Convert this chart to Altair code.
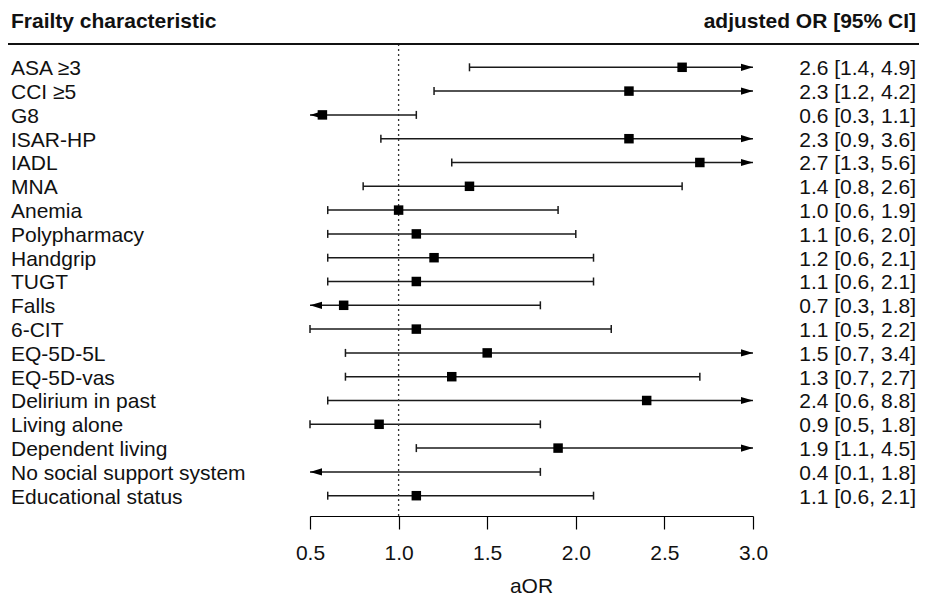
import altair as alt
import pandas as pd

# ---- data ----
labels = ["ASA ≥3", "CCI ≥5", "G8", "ISAR-HP", "IADL", "MNA", "Anemia",
          "Polypharmacy", "Handgrip", "TUGT", "Falls", "6-CIT", "EQ-5D-5L",
          "EQ-5D-vas", "Delirium in past", "Living alone", "Dependent living",
          "No social support system", "Educational status"]
aor = [2.6, 2.3, 0.57, 2.3, 2.7, 1.4, 1.0, 1.1, 1.2, 1.1, 0.69, 1.1, 1.5,
       1.3, 2.4, 0.89, 1.9, 0.4, 1.1]
lower = [1.4, 1.2, 0.3, 0.9, 1.3, 0.8, 0.6, 0.6, 0.6, 0.6, 0.3, 0.5, 0.7,
         0.7, 0.6, 0.5, 1.1, 0.1, 0.6]
upper = [4.9, 4.2, 1.1, 3.6, 5.6, 2.6, 1.9, 2.0, 2.1, 2.1, 1.8, 2.2, 3.4,
         2.7, 8.8, 1.8, 4.5, 1.8, 2.1]
ci_text = ["2.6 [1.4, 4.9]", "2.3 [1.2, 4.2]", "0.6 [0.3, 1.1]",
           "2.3 [0.9, 3.6]", "2.7 [1.3, 5.6]", "1.4 [0.8, 2.6]",
           "1.0 [0.6, 1.9]", "1.1 [0.6, 2.0]", "1.2 [0.6, 2.1]",
           "1.1 [0.6, 2.1]", "0.7 [0.3, 1.8]", "1.1 [0.5, 2.2]",
           "1.5 [0.7, 3.4]", "1.3 [0.7, 2.7]", "2.4 [0.6, 8.8]",
           "0.9 [0.5, 1.8]", "1.9 [1.1, 4.5]", "0.4 [0.1, 1.8]",
           "1.1 [0.6, 2.1]"]
x_ticks = [0.5, 1.0, 1.5, 2.0, 2.5, 3.0]
XMIN, XMAX = 0.5, 3.0

FONT = "Liberation Sans"
FS = 21
W, H = 443, 472

df = pd.DataFrame({
    "row": list(range(len(labels))),
    "label": labels,
    "aor": aor,
    "lower": lower,
    "upper": upper,
    "ci": ci_text,
})
df["lo_c"] = df["lower"].clip(lower=XMIN)
df["hi_c"] = df["upper"].clip(upper=XMAX)

xs = alt.Scale(domain=[XMIN, XMAX], nice=False, zero=False)
ys = alt.Scale(domain=[-0.979, 18.853], reverse=True, nice=False, zero=False)

base = alt.Chart(df)
Y = alt.Y("row:Q", scale=ys, axis=None)

whisk = base.mark_rule(color="#1a1a1a", strokeWidth=1.5).encode(
    x=alt.X("lo_c:Q", scale=xs,
            axis=alt.Axis(values=x_ticks, format=".1f", title=None, grid=False,
                          domainColor="black", domainWidth=1.2,
                          tickColor="black", tickWidth=1.2, tickSize=13,
                          labelFont=FONT, labelFontSize=FS, labelColor="#111111",
                          labelPadding=13, labelFlush=False, labelOverlap=False)),
    x2="hi_c:Q",
    y=Y,
)

cap_lo = base.transform_filter(alt.datum.lower >= XMIN).mark_tick(
    orient="vertical", size=8, thickness=1.5, color="#1a1a1a", opacity=1
).encode(x=alt.X("lower:Q", scale=xs), y=Y)

cap_hi = base.transform_filter(alt.datum.upper <= XMAX).mark_tick(
    orient="vertical", size=8, thickness=1.5, color="#1a1a1a", opacity=1
).encode(x=alt.X("upper:Q", scale=xs), y=Y)

right_arrow = base.transform_filter(alt.datum.upper > XMAX).mark_point(
    shape="M0,0L-2,-0.6L-2,0.6Z", size=144, filled=True, color="black",
    opacity=1, strokeWidth=0
).encode(x=alt.X("hi_c:Q", scale=xs), y=Y)

left_arrow = base.transform_filter(alt.datum.lower < XMIN).mark_point(
    shape="M0,0L2,-0.6L2,0.6Z", size=144, filled=True, color="black",
    opacity=1, strokeWidth=0
).encode(x=alt.X("lo_c:Q", scale=xs), y=Y)

squares = base.transform_filter(
    (alt.datum.aor >= XMIN) & (alt.datum.aor <= XMAX)
).mark_square(size=90, color="black", opacity=1, filled=True).encode(
    x=alt.X("aor:Q", scale=xs), y=Y)

refline = alt.Chart(pd.DataFrame({"ref": [1.0]})).mark_rule(
    color="#333333", strokeWidth=1.3, strokeDash=[2, 3]
).encode(x=alt.X("ref:Q", scale=xs), y=alt.value(0), y2=alt.value(H))

row_labels = base.mark_text(
    align="left", baseline="alphabetic", dy=8, font=FONT, fontSize=FS,
    color="#111111"
).encode(x=alt.value(-299), y=Y, text="label:N")

ci_labels = base.mark_text(
    align="right", baseline="alphabetic", dy=8, font=FONT, fontSize=FS,
    color="#111111"
).encode(x=alt.value(606), y=Y, text="ci:N")

hdr = pd.DataFrame({"t": ["Frailty characteristic", "adjusted OR [95% CI]"],
                    "a": ["left", "right"]})
hdr_left = alt.Chart(hdr).transform_filter(alt.datum.a == "left").mark_text(
    align="left", baseline="alphabetic", font=FONT, fontSize=FS,
    fontWeight="bold", color="#111111"
).encode(x=alt.value(-299), y=alt.value(-16), text="t:N")
hdr_right = alt.Chart(hdr).transform_filter(alt.datum.a == "right").mark_text(
    align="right", baseline="alphabetic", font=FONT, fontSize=FS,
    fontWeight="bold", color="#111111"
).encode(x=alt.value(606), y=alt.value(-16), text="t:N")

hdr_line = alt.Chart(pd.DataFrame({"k": [0]})).mark_rule(
    color="#111111", strokeWidth=1.8
).encode(x=alt.value(-302), x2=alt.value(609), y=alt.value(0))

xtitle = alt.Chart(pd.DataFrame({"t": ["aOR"]})).mark_text(
    align="center", baseline="alphabetic", font=FONT, fontSize=FS,
    color="#111111"
).encode(x=alt.value(W / 2), y=alt.value(549), text="t:N")

chart = alt.layer(
    whisk, refline, cap_lo, cap_hi, right_arrow, left_arrow, squares,
    row_labels, ci_labels, hdr_left, hdr_right, hdr_line, xtitle
).properties(
    width=W, height=H,
    background="white",
    autosize=alt.AutoSizeParams(type="none"),
    padding={"left": 302, "top": 36, "right": 166, "bottom": 83},
).configure_view(stroke=None, strokeWidth=0)

chart.save("out.html", embed_options={"renderer": "svg", "actions": False})
